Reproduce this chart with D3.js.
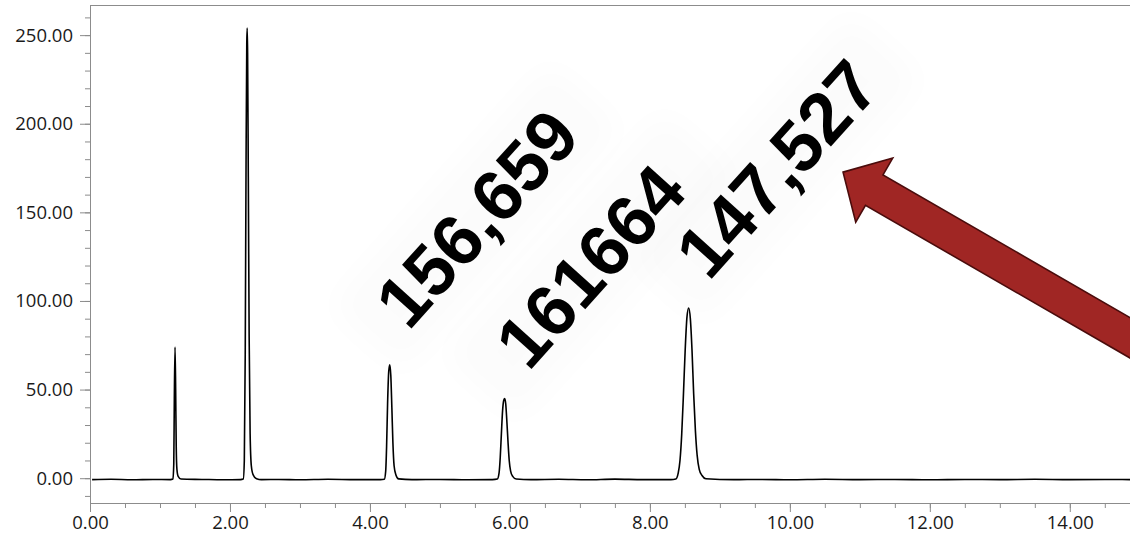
<!DOCTYPE html>
<html>
<head>
<meta charset="utf-8">
<script src="https://cdn.jsdelivr.net/npm/d3@7"></script>
<style>
	body { margin: 0; background: #fff; }
	.axis path, .axis line { stroke: #8c8c8c; }
	.axis text { font-family: 'Open Sans', sans-serif; font-size: 18.5px; fill: #1a1a1a; }
	.peak-label { font-family: 'Liberation Sans', Arial, sans-serif; font-weight: bold; font-size: 72px; fill: #000; }
</style>
</head>
<body>
<script>
// Trace (minutes, signal)
var retentionTime = [
	0.03, 0.3, 0.6, 0.9, 1.15,
	1.185, 1.197, 1.205, 1.215, 1.224, 1.232, 1.242, 1.26, 1.3,
	1.6, 1.9, 2.15,
	2.19, 2.205, 2.218, 2.23, 2.24, 2.246, 2.252, 2.262, 2.274, 2.288, 2.305, 2.33, 2.38, 2.45,
	2.7, 3.0, 3.4, 3.8, 4.15,
	4.205, 4.225, 4.238, 4.252, 4.268, 4.283, 4.298, 4.313, 4.328, 4.345, 4.37, 4.41,
	4.6, 5.0, 5.4, 5.75,
	5.82, 5.845, 5.862, 5.878, 5.895, 5.912, 5.926, 5.94, 5.955, 5.972, 5.99, 6.01, 6.04, 6.09,
	6.3, 6.7, 7.1, 7.5, 7.9, 8.3,
	8.37, 8.405, 8.43, 8.455, 8.48, 8.505, 8.53, 8.554, 8.578, 8.602, 8.625, 8.65, 8.675, 8.705, 8.745, 8.8,
	9.2, 9.6, 10.0, 10.5, 11.0, 11.5, 12.0, 12.5, 13.0, 13.5, 14.0, 14.5, 14.9
];
var signal = [
	-0.8, -0.6, -0.9, -0.7, -0.8,
	-0.5, 8, 45, 74, 50, 18, 5, 1, -0.5,
	-0.7, -0.9, -0.8,
	-0.5, 10, 70, 180, 245, 254, 240, 170, 80, 25, 7, 2, -0.3, -0.8,
	-0.7, -0.9, -0.6, -0.8, -0.8,
	-0.6, 4, 18, 42, 60, 64, 58, 40, 20, 7, 2, -0.4,
	-0.8, -0.7, -0.9, -0.8,
	-0.5, 3, 12, 25, 38, 44, 45, 42, 33, 21, 10, 4, 1, -0.5,
	-0.8, -0.6, -0.9, -0.5, -0.8, -0.8,
	-0.5, 3, 10, 25, 48, 73, 91, 96, 90, 72, 48, 27, 13, 5, 1.5, -0.3,
	-0.8, -0.7, -0.9, -0.6, -0.8, -0.7, -0.9, -0.7, -0.8, -0.6, -0.8, -0.7, -0.8
];

// Tick values
var xTicks = [0, 2, 4, 6, 8, 10, 12, 14];
var yTicks = [0, 50, 100, 150, 200, 250];

// Peak area labels and where they sit (data units)
var peakAreas = ['156,659', '161664', '147,527'];
var labelTime = [5.52, 7.14, 9.81];
var labelSignal = [147, 120, 175];

// Arrow tip (data units)
var arrowTip = [10.76, 172.7];

var W = 1130, H = 538;
var margin = { top: 5, right: 0, bottom: 35, left: 90 };

var x = d3.scaleLinear().domain([0, 14.86]).range([margin.left, W - margin.right]);
var y = d3.scaleLinear().domain([-14, 267]).range([H - margin.bottom, margin.top]);

var svg = d3
	.select('body')
	.append('svg')
	.attr('width', W)
	.attr('height', H);

var defs = svg.append('defs');
defs
	.append('filter')
	.attr('id', 'soft')
	.attr('x', '-50%')
	.attr('y', '-50%')
	.attr('width', '200%')
	.attr('height', '200%')
	.append('feGaussianBlur')
	.attr('stdDeviation', 16);

// Top frame line
svg
	.append('line')
	.attr('x1', margin.left)
	.attr('x2', W)
	.attr('y1', margin.top + 0.5)
	.attr('y2', margin.top + 0.5)
	.attr('stroke', '#8c8c8c');

// Minor ticks
var xMinor = d3.range(0, 15, 0.5);
var yMinor = d3.range(-10, 267, 10);

svg
	.append('g')
	.attr('class', 'axis')
	.attr('transform', 'translate(0,' + (H - margin.bottom) + ')')
	.call(d3.axisBottom(x).tickValues(xMinor).tickSize(5).tickFormat(''))
	.select('.domain').remove();

svg
	.append('g')
	.attr('class', 'axis')
	.attr('transform', 'translate(' + margin.left + ',0)')
	.call(d3.axisLeft(y).tickValues(yMinor).tickSize(5).tickFormat(''))
	.select('.domain').remove();

// Major axes
svg
	.append('g')
	.attr('class', 'axis')
	.attr('transform', 'translate(0,' + (H - margin.bottom) + ')')
	.call(d3.axisBottom(x).tickValues(xTicks).tickSize(9).tickSizeOuter(0).tickPadding(4).tickFormat(d3.format('.2f')));

svg
	.append('g')
	.attr('class', 'axis')
	.attr('transform', 'translate(' + margin.left + ',0)')
	.call(d3.axisLeft(y).tickValues(yTicks).tickSize(10).tickSizeOuter(0).tickPadding(7).tickFormat(d3.format('.2f')));

// Chromatogram trace
var pts = retentionTime.map((t, i) => [t, signal[i]]);
var line = d3
	.line()
	.x(d => x(d[0]))
	.y(d => y(d[1]))
	.curve(d3.curveMonotoneX);

svg
	.append('path')
	.datum(pts)
	.attr('d', line)
	.attr('fill', 'none')
	.attr('stroke', '#000')
	.attr('stroke-width', 1.6);

// Peak area labels with a faint box shadow
var labels = svg
	.selectAll('g.label')
	.data(peakAreas)
	.enter()
	.append('g')
	.attr('class', 'label')
	.attr('transform', (d, i) => 'translate(' + x(labelTime[i]) + ',' + y(labelSignal[i]) + ') rotate(-48)');

labels
	.append('rect')
	.attr('x', -165)
	.attr('y', -50)
	.attr('width', 330)
	.attr('height', 100)
	.attr('fill', '#000')
	.attr('opacity', 0.01)
	.attr('filter', 'url(#soft)');

labels
	.append('text')
	.attr('class', 'peak-label')
	.attr('text-anchor', 'middle')
	.attr('dy', '0.36em')
	.text(d => d);

// Red arrow pointing at the last label
var arrowShape = [[0, 0], [36, -37], [36, -17.5], [500, -17.5], [500, 17.5], [36, 17.5], [36, 37]];
svg
	.append('polygon')
	.attr('points', arrowShape.map(p => p.join(',')).join(' '))
	.attr('transform', 'translate(' + x(arrowTip[0]) + ',' + y(arrowTip[1]) + ') rotate(30)')
	.attr('fill', '#a02624')
	.attr('stroke', '#4a0c0c')
	.attr('stroke-width', 1.6)
	.attr('stroke-linejoin', 'miter');
</script>
</body>
</html>
